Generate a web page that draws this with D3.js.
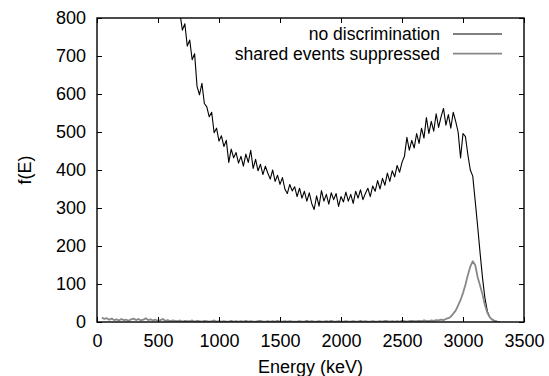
<!DOCTYPE html>
<html>
<head>
<meta charset="utf-8">
<script src="https://cdn.jsdelivr.net/npm/d3@7"></script>
<style>
  body { margin:0; background:#fff; }
  text { font-family: "Liberation Sans", Arial, sans-serif; font-size:18px; fill:#000; }
</style>
</head>
<body>
<script>
// histogram bins, 20 keV wide
let binWidth = 20

// no discrimination, bins start at 660 keV
let noDiscStart = 660
let noDisc = [
  840,812,768,785,726,742,690,706,620,598,
  628,575,566,540,552,498,510,476,490,462,
  478,420,455,432,446,418,436,410,442,420,
  452,404,428,398,415,388,410,392,376,400,
  370,386,362,380,350,338,362,345,356,330,
  352,326,344,318,340,312,296,332,305,346,
  318,336,310,340,322,338,304,330,316,342,
  318,336,312,344,326,348,322,338,352,330,
  358,344,372,350,378,360,392,370,398,382,
  412,394,420,436,486,452,478,458,496,470,
  510,484,538,496,528,502,548,512,540,562,
  518,546,510,552,528,500,432,496,488,440,
  400,384,318,252,182,116,62,28,12,6,
  3,1,0
]

// shared events suppressed, bins start at 40 keV
let suppStart = 40
let supp = [
  12,8,10,6,9,5,7,4,8,5,
  6,3,7,9,5,8,4,6,10,5,
  7,4,6,3,5,8,3,5,2,4,
  3,2,4,1,3,2,2,4,1,3,
  2,1,3,2,1,2,4,1,2,1,
  2,1,1,3,1,2,1,2,1,3,
  1,2,1,1,2,3,1,1,2,1,
  2,1,3,1,1,2,1,2,1,1,
  1,2,1,1,3,1,2,1,1,2,
  1,1,2,1,3,1,1,2,1,1,
  2,1,1,2,1,1,3,1,2,1,
  1,2,1,1,2,1,3,2,1,2,
  1,2,1,3,2,1,2,3,2,2,
  3,2,4,3,2,4,3,5,4,6,
  5,8,10,14,22,30,44,58,76,98,
  124,146,160,150,118,96,72,44,24,12,
  6,3,1,0
]

let xTicks = [0,500,1000,1500,2000,2500,3000,3500]
let yTicks = [0,100,200,300,400,500,600,700,800]
let seriesNames = ["no discrimination","shared events suppressed"]
let seriesColors = ["#000000","#888888"]

let W = 549, H = 376
let margin = {left:97,right:25,top:18,bottom:54}
let w = W - margin.left - margin.right
let h = H - margin.top - margin.bottom

let toPoints = (vals,start)=>vals.map((v,i)=>({e:start+i*binWidth, v:v}))
let series = [toPoints(noDisc,noDiscStart), toPoints(supp,suppStart)]

let x = d3.scaleLinear().domain([0,3500]).range([0,w])
let y = d3.scaleLinear().domain([0,800]).range([h,0])

let svg = d3.select("body").append("svg").attr("width",W).attr("height",H)
let chartGroup = svg.append("g").attr("transform","translate("+margin.left+","+margin.top+")")

chartGroup.append("clipPath").attr("id","clip")
          .append("rect").attr("width",w).attr("height",h)

let line = d3.line().x(d=>x(d.e)).y(d=>y(d.v))

chartGroup.selectAll("path.series")
          .data(series)
          .enter().append("path")
                  .attr("class","series")
                  .attr("clip-path","url(#clip)")
                  .attr("d",d=>line(d))
                  .attr("fill","none")
                  .attr("stroke",(d,i)=>seriesColors[i])
                  .attr("stroke-width",(d,i)=>i==0 ? 1.1 : 1.8)
                  .attr("stroke-linejoin","round")

// axes with inward ticks, mirrored on top and right
let tick = 5
let fmt = d3.format("d")
let bottom = chartGroup.append("g").attr("transform","translate(0,"+h+")")
                       .call(d3.axisBottom(x).tickValues(xTicks).tickFormat(fmt).tickSizeInner(-tick).tickSizeOuter(0).tickPadding(11))
let left = chartGroup.append("g")
                     .call(d3.axisLeft(y).tickValues(yTicks).tickFormat(fmt).tickSizeInner(-tick).tickSizeOuter(0).tickPadding(11))
chartGroup.append("g")
          .call(d3.axisTop(x).tickValues(xTicks).tickSizeInner(-tick).tickSizeOuter(0).tickFormat(""))
chartGroup.append("g").attr("transform","translate("+w+",0)")
          .call(d3.axisRight(y).tickValues(yTicks).tickSizeInner(-tick).tickSizeOuter(0).tickFormat(""))

svg.selectAll(".domain").remove()
svg.selectAll(".tick line").attr("stroke","#000").attr("stroke-width",1)
svg.selectAll(".tick text").attr("font-size",null).attr("font-family",null)
bottom.selectAll(".tick text").attr("dy","0.75em")

chartGroup.append("rect").attr("width",w).attr("height",h)
          .attr("fill","none").attr("stroke","#000").attr("stroke-width",1.4)

// axis titles
svg.append("text").attr("x",margin.left+w/2).attr("y",373)
   .attr("text-anchor","middle").text("Energy (keV)")
svg.append("text").attr("transform","translate(31,"+(margin.top+h/2)+") rotate(-90)")
   .attr("text-anchor","middle").text("f(E)")

// legend
let legend = svg.selectAll("g.legend")
                .data(seriesNames)
                .enter().append("g").attr("class","legend")
                .attr("transform",(d,i)=>"translate(0,"+(40+i*19.6)+")")
legend.append("text").attr("x",440).attr("text-anchor","end").style("font-size","17.5px").text(d=>d)
legend.append("line").attr("x1",453).attr("x2",502).attr("y1",-6).attr("y2",-6)
      .attr("stroke",(d,i)=>seriesColors[i]).attr("stroke-width",(d,i)=>i==0 ? 1.1 : 1.8)
</script>
</body>
</html>
